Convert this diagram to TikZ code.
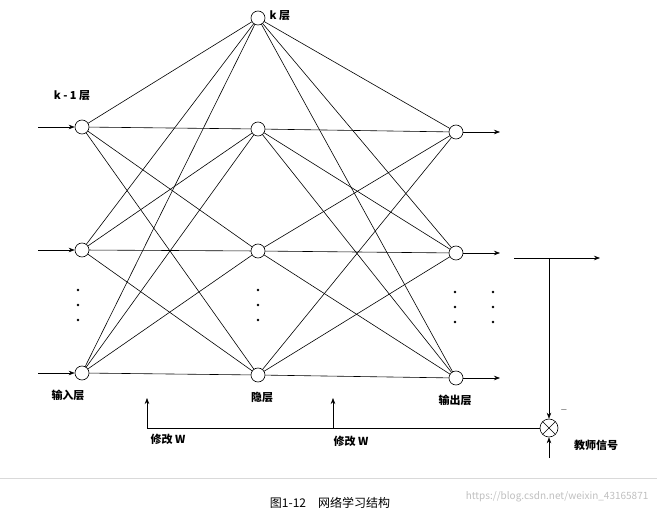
\documentclass[tikz,border=0pt]{standalone}
\usepackage{fontspec}
\newfontfamily\cjk{Noto Sans CJK SC}
\usetikzlibrary{arrows.meta}
\begin{document}
\begin{tikzpicture}[
		x=1pt, y=-1pt,
		line width=0.6pt,
		neuron/.style={
			circle,
			draw,
			fill=white,
			minimum size=14pt,
			inner sep=0
		},
		mixer/.style={
			circle,
			draw,
			fill=white,
			minimum size=18pt,
			inner sep=0,
			path picture={
				\draw (path picture bounding box.north west) -- (path picture bounding box.south east)
				(path picture bounding box.north east) -- (path picture bounding box.south west);
			}
		},
		lbl/.style={
			font=\cjk\bfseries\fontsize{11}{13}\selectfont
		},
		sig/.style={
			-{Stealth[length=6pt]}
		}
	]
	\useasboundingbox (0,0) rectangle (657,516);

	% links first, nodes on top
	\foreach \i/\y in {1/127, 2/250, 3/373}{
		\coordinate (I\i) at (82,\y);
	}
	\foreach \j/\y in {0/18, 1/129, 2/251, 3/375}{
		\coordinate (H\j) at (258,\y);
	}
	\foreach \k/\y in {1/132, 2/253, 3/378}{
		\coordinate (O\k) at (456,\y);
	}
	\foreach \i in {1,2,3}{
		\foreach \j in {0,1,2,3}{
			\draw (I\i) -- (H\j);
			\draw (H\j) -- (O\i);
		}
	}
	\foreach \i in {1,2,3}{
		\node [neuron] (IN\i) at (I\i) {};
		\node [neuron] (OUT\i) at (O\i) {};
	}
	\foreach \j in {0,1,2,3}{
		\node [neuron] (HID\j) at (H\j) {};
	}

	% in and out arrows
	\foreach \i in {1,2,3}{
		\coordinate (src\i) at (38,0 |- IN\i);
		\draw [sig] (src\i) -- (IN\i);
		\coordinate (dst\i) at (500,0 |- OUT\i);
		\draw [sig] (OUT\i) -- (dst\i);
	}

	% dots
	\foreach \x/\d in {78/0, 258/0, 455/2, 493/2}{
		\foreach \y in {290,305,320}{
			\fill (\x,\y+\d) circle (1.3);
		}
	}

	% teacher loop
	\coordinate (ya) at (514,258);
	\coordinate (yb) at (600,258);
	\coordinate (yt) at (549,258);
	\draw [sig] (ya) -- (yb);
	\node [mixer] (MIX) at (549,428) {};
	\draw [sig] (yt) -- (MIX);
	\coordinate (tch) at (549,458);
	\draw [sig] (tch) -- (MIX);
	\coordinate (fbL) at (147,428);
	\draw (MIX) -- (fbL);
	\coordinate (upA) at (147,398);
	\coordinate (fbM) at (333,428);
	\coordinate (upB) at (333,398);
	\draw [sig] (fbL) -- (upA);
	\draw [sig] (fbM) -- (upB);

	% labels
	\node [lbl, anchor=west] (lk) at (266,16) {k 层};
	\node [lbl] (lk1) at (72,96) {k - 1 层};
	\node [lbl] (lin) at (68,395) {输入层};
	\node [lbl] (lhid) at (262,397) {隐层};
	\node [lbl] (lout) at (455,400) {输出层};
	\node [lbl] (lw1) at (168,439) {修改 W};
	\node [lbl] (lw2) at (351,441) {修改 W};
	\node [lbl] (lteach) at (596,445) {教师信号};
	\node [font=\small] (lminus) at (564,410) {$-$};

	% caption
	\draw [black!15, line width=0.4pt] (0,478) -- (657,478);
	\node [font=\cjk\fontsize{12}{14}\selectfont] (cap) at (330,503) {图1-12\quad 网络学习结构};
	\node [font=\cjk\fontsize{10}{12}\selectfont, text=black!25, anchor=east] (wm) at (652,497) {https://blog.csdn.net/weixin\_43165871};
\end{tikzpicture}
\end{document}
